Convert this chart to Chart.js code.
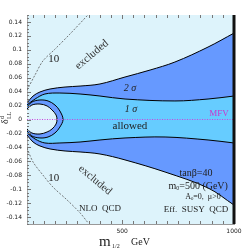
<!DOCTYPE html>
<html><head><meta charset="utf-8">
<script src="https://cdn.jsdelivr.net/npm/chart.js@4/dist/chart.umd.min.js"></script>
<style>html,body{margin:0;padding:0;background:#fff}#wrap{width:251px;height:251px}</style>
</head><body><div id="wrap"><canvas id="c" width="251" height="251"></canvas></div>
<script>
// ---- values: m_{1/2} (GeV) vs delta ----
const outer2UpperM = [75, 102, 133, 178, 245, 312, 401, 513, 625, 736, 884, 1000];
const outer2UpperV = [0.0237, 0.0337, 0.0395, 0.0438, 0.0466, 0.048, 0.051, 0.061, 0.071, 0.0825, 0.104, 0.124];
const outer2LowerM = [75, 102, 133, 178, 245, 312, 401, 513, 692, 884, 1000];
const outer2LowerV = [-0.0222, -0.0323, -0.038, -0.0423, -0.0452, -0.0466, -0.0495, -0.058, -0.0754, -0.0983, -0.1228];
const sigma1UpperM = [75, 111, 155, 222, 312, 401, 513, 736, 884, 1000];
const sigma1UpperV = [0.0208, 0.0294, 0.0366, 0.038, 0.0366, 0.0337, 0.0294, 0.0266, 0.0294, 0.0337];
const sigma1LowerM = [75, 111, 155, 222, 312, 401, 513, 692, 884, 1000];
const sigma1LowerV = [-0.0194, -0.028, -0.0337, -0.0337, -0.0323, -0.0294, -0.0265, -0.0251, -0.0294, -0.0337];
const crescentM = [75, 97, 133, 169, 200, 222, 236, 222, 200, 169, 133, 97, 75];
const crescentV = [0.018, 0.0251, 0.028, 0.0266, 0.0208, 0.0122, 0, -0.0108, -0.0194, -0.0251, -0.0265, -0.0237, -0.0165];
const holeM = [75, 97, 133, 165, 187, 205, 209, 205, 187, 165, 133, 97, 75];
const holeV = [0.0151, 0.0208, 0.0222, 0.0194, 0.0136, 0.0065, 0, -0.0065, -0.0136, -0.0179, -0.0208, -0.0194, -0.0136];
const contourUpM = [75, 111, 146, 200, 267, 347];
const contourUpV = [0.0423, 0.064, 0.084, 0.101, 0.1227, 0.150];
const contourLowM = [75, 102, 146, 191, 254, 312, 347];
const contourLowV = [-0.041, -0.061, -0.0797, -0.097, -0.1155, -0.134, -0.148];
const mfvM = [75, 1000];
const mfvV = [0, 0];
// ---- ticks ----
const xTickValues = [500, 1000];
const xTickLabels = ['500', '1000'];
const xMinorTicks = [100,150,200,250,300,350,400,450,500,550,600,650,700,750,800,850,900,950,1000];
const yTickValues = [-0.14,-0.12,-0.1,-0.08,-0.06,-0.04,-0.02,0,0.02,0.04,0.06,0.08,0.1,0.12,0.14];
const yTickLabels = ['-0.14','-0.12','-0.1','-0.08','-0.06','-0.04','-0.02','0','0.02','0.04','0.06','0.08','0.1','0.12','0.14'];

const zip = (xs, ys) => xs.map((x, i) => ({x, y: ys[i]}));
const BG = '#ddf3fb', S1 = '#66ccff', S2 = '#6699ff';
const SERIF = '"Liberation Serif", "DejaVu Serif", serif';

const notes = [
  {runs:[['excluded',0,1]], m:365, v:0.093, size:11, rot:-40, color:'#333'},
  {runs:[['excluded',0,1]], m:379, v:-0.087, size:11, rot:40, color:'#333'},
  {runs:[['10',0,1]], m:195, v:0.086, size:11},
  {runs:[['10',0,1]], m:195, v:-0.084, size:11},
  {runs:[['2 σ',0,1]], m:535, v:0.045, size:10, italic:true},
  {runs:[['1 σ',0,1]], m:540, v:0.015, size:10, italic:true},
  {runs:[['allowed',0,1]], m:535, v:-0.009, size:11},
  {runs:[['MFV',0,1]], m:933, v:0.008, size:9, color:'#cc33cc'},
  {runs:[['tanβ=40',0,1]], m:830, v:-0.078, size:10},
  {runs:[['m',0,1],['0',2,0.6],['=500 (GeV)',0,1]], m:840, v:-0.0955, size:10},
  {runs:[['A',0,1],['0',2,0.6],['=0,  μ>0',0,1]], m:861, v:-0.111, size:8},
  {runs:[['Eff.  SUSY  QCD',0,1]], m:830, v:-0.13, size:9},
  {runs:[['NLO  QCD',0,1]], m:401, v:-0.1285, size:9}
];

function drawRuns(ctx, runs, size, italic, cx, cy) {
  const fonts = runs.map(r => (italic ? 'italic ' : '') + (size * r[2]) + 'px ' + SERIF);
  let total = 0; const widths = [];
  runs.forEach((r, i) => { ctx.font = fonts[i]; const w = ctx.measureText(r[0]).width; widths.push(w); total += w; });
  let x = cx - total / 2;
  runs.forEach((r, i) => { ctx.font = fonts[i]; ctx.fillText(r[0], x, cy + r[1]); x += widths[i]; });
}

const decor = {
  id: 'decor',
  beforeDraw(chart) {
    const {ctx, chartArea: a} = chart;
    ctx.save(); ctx.fillStyle = BG; ctx.fillRect(a.left, a.top, a.right - a.left, a.bottom - a.top); ctx.restore();
  },
  afterDatasetsDraw(chart) {
    const {ctx, chartArea: a, scales: {x, y}} = chart;
    ctx.save();
    ctx.strokeStyle = '#777'; ctx.lineWidth = 1; ctx.beginPath();
    for (let k = -30; k <= 30; k++) {
      const py = Math.round(y.getPixelForValue(k * 0.005)) + 0.5;
      const len = (k % 4 === 0) ? 4 : 2;
      ctx.moveTo(a.left, py); ctx.lineTo(a.left + len, py);
    }
    for (const m of xMinorTicks) {
      const px = Math.round(x.getPixelForValue(m)) + 0.5;
      const len = (m % 500 === 0) ? 4 : 3;
      ctx.moveTo(px, a.bottom); ctx.lineTo(px, a.bottom - len);
      ctx.moveTo(px, a.top); ctx.lineTo(px, a.top + len);
    }
    ctx.stroke();
    ctx.strokeStyle = '#111'; ctx.lineWidth = 3;
    ctx.beginPath(); ctx.moveTo(a.right, a.top); ctx.lineTo(a.right, a.bottom); ctx.stroke();
    ctx.textBaseline = 'middle';
    for (const n of notes) {
      ctx.save();
      ctx.translate(x.getPixelForValue(n.m), y.getPixelForValue(n.v));
      if (n.rot) ctx.rotate(n.rot * Math.PI / 180);
      ctx.fillStyle = n.color || '#222';
      drawRuns(ctx, n.runs, n.size, n.italic, 0, 0);
      ctx.restore();
    }
    ctx.restore();
  },
  afterDraw(chart) {
    const {ctx} = chart;
    ctx.save(); ctx.fillStyle = '#222'; ctx.textBaseline = 'alphabetic';
    ctx.font = '15px ' + SERIF; ctx.fillText('m', 99, 246);
    ctx.font = '6px ' + SERIF; ctx.fillText('1/2', 112, 248);
    ctx.font = '10px ' + SERIF; ctx.fillText('GeV', 131, 245);
    ctx.translate(8, 118); ctx.rotate(-Math.PI / 2);
    ctx.font = '10px ' + SERIF; ctx.fillText('δ', -6, 0);
    ctx.font = '6px ' + SERIF; ctx.fillText('d', -1, -4); ctx.fillText('LL', -1, 3);
    ctx.restore();
  }
};

const line = (data, extra) => Object.assign({data, pointRadius: 0, borderColor: '#000', borderWidth: 1, tension: 0.35, fill: false}, extra);

new Chart(document.getElementById('c'), {
  type: 'line',
  data: {
    datasets: [
      line(zip(outer2UpperM, outer2UpperV), {fill: 1, backgroundColor: S2, order: 10}),
      line(zip(outer2LowerM, outer2LowerV), {order: 9}),
      line(zip(sigma1UpperM, sigma1UpperV), {fill: 3, backgroundColor: S1, order: 8}),
      line(zip(sigma1LowerM, sigma1LowerV), {order: 7}),
      line(zip(crescentM, crescentV), {fill: 'shape', backgroundColor: S2, order: 6}),
      line(zip(holeM, holeV), {fill: 'shape', backgroundColor: BG, order: 5}),
      line(zip(contourUpM, contourUpV), {borderColor: '#555', borderWidth: 0.8, borderDash: [2, 1.5], tension: 0.3, order: 4}),
      line(zip(contourLowM, contourLowV), {borderColor: '#555', borderWidth: 0.8, borderDash: [2, 1.5], tension: 0.3, order: 3}),
      line(zip(mfvM, mfvV), {borderColor: '#cc44dd', borderWidth: 1.2, borderDash: [1, 1.5], tension: 0, order: 1})
    ]
  },
  options: {
    responsive: false, animation: false, devicePixelRatio: 1,
    layout: {padding: {left: 0, right: 17, top: 15, bottom: 0}},
    plugins: {legend: {display: false}, tooltip: {enabled: false}, filler: {drawTime: 'beforeDatasetsDraw'}},
    scales: {
      x: {
        type: 'linear', min: 75, max: 1000,
        afterBuildTicks: s => { s.ticks = xTickValues.map(v => ({value: v})); },
        afterFit: s => { s.height = 27; },
        grid: {display: true, drawOnChartArea: false, drawTicks: false},
        border: {display: true, color: '#999', width: 1},
        ticks: {padding: 4, font: {size: 6, family: '"DejaVu Sans", sans-serif'}, color: '#222', maxRotation: 0,
          callback: (v, i) => xTickLabels[i]}
      },
      y: {
        type: 'linear', min: -0.15, max: 0.15,
        afterBuildTicks: s => { s.ticks = yTickValues.map(v => ({value: v})); },
        afterFit: s => { s.width = 27; },
        grid: {display: true, drawOnChartArea: false, drawTicks: false},
        border: {display: true, color: '#aaa', width: 1},
        ticks: {padding: 5, font: {size: 6, family: '"DejaVu Sans", sans-serif'}, color: '#222',
          callback: (v, i) => yTickLabels[i]}
      }
    }
  },
  plugins: [decor]
});
</script>
</body></html>
